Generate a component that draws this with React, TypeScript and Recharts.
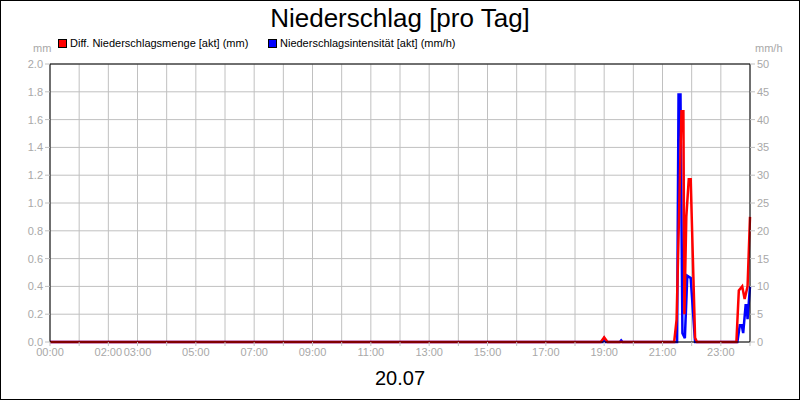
import React from "react";
import {
  LineChart,
  Line,
  XAxis,
  YAxis,
  CartesianGrid,
  ReferenceLine,
} from "recharts";

const RED = "#ff0000";
const BLUE = "#0000ff";
const GRID = "#c0c0c0";
const LABEL = "#a8a8a8";
const FONT = '"Liberation Sans", Arial, sans-serif';

// minutes since 00:00 and mm per step
const mengeTimes = [0, 1133, 1140, 1147, 1284, 1289, 1299, 1303, 1305, 1309, 1314, 1318, 1327, 1331, 1412, 1417, 1424, 1429, 1435, 1440];
const mengeValues = [0, 0, 0.034, 0, 0, 0.16, 1.66, 1.66, 0.2, 0.9, 1.17, 1.17, 0.03, 0, 0, 0.37, 0.4, 0.31, 0.4, 0.9];

// minutes since 00:00 and mm/h
const intensTimes = [0, 1137, 1140, 1143, 1172, 1175, 1178, 1290, 1293, 1297, 1301, 1306, 1311, 1318, 1327, 1414, 1419, 1423, 1426, 1431, 1433, 1435, 1440];
const intensValues = [0, 0, 0.6, 0, 0, 0.3, 0, 0, 44.5, 44.5, 1.6, 0.7, 11.9, 11.5, 0, 0, 3, 3, 1.6, 6.6, 6.6, 4.1, 10];

const hourTicks = Array.from({ length: 25 }, (_, i) => i * 60);
const labeledHours = [0, 2, 3, 5, 7, 9, 11, 13, 15, 17, 19, 21, 23];
const mmTicks = [0, 0.2, 0.4, 0.6, 0.8, 1.0, 1.2, 1.4, 1.6, 1.8, 2.0];
const mmhTicks = [0, 5, 10, 15, 20, 25, 30, 35, 40, 45, 50];

const mengeData = mengeTimes.map((t, i) => ({ t, v: mengeValues[i] }));
const intensData = intensTimes.map((t, i) => ({ t, v: intensValues[i] }));

function formatHour(min: number): string {
  const h = min / 60;
  if (!labeledHours.includes(h)) return "";
  return `${String(h).padStart(2, "0")}:00`;
}

const tickStyle = { fill: LABEL, fontSize: 11, fontFamily: FONT };

export default function App() {
  return (
    <div
      style={{
        position: "absolute",
        left: 0,
        top: 0,
        width: 800,
        height: 400,
        background: "#fff",
        fontFamily: FONT,
      }}
    >
      <LineChart
        width={800}
        height={400}
        margin={{ top: 64, right: 0, bottom: 0, left: 0 }}
      >
        <CartesianGrid stroke={GRID} yAxisId="left" />
        <XAxis
          type="number"
          dataKey="t"
          domain={[0, 1440]}
          ticks={hourTicks}
          tickFormatter={formatHour}
          interval={0}
          height={58}
          tick={tickStyle}
          tickSize={4}
          tickLine={{ stroke: GRID }}
          axisLine={{ stroke: "#000" }}
          allowDuplicatedCategory={false}
        />
        <YAxis
          yAxisId="left"
          domain={[0, 2]}
          ticks={mmTicks}
          tickFormatter={(v) => Number(v).toFixed(1)}
          width={50}
          tick={tickStyle}
          tickSize={5}
          tickLine={{ stroke: GRID }}
          axisLine={{ stroke: "#000" }}
        />
        <YAxis
          yAxisId="right"
          orientation="right"
          domain={[0, 50]}
          ticks={mmhTicks}
          width={50}
          tick={tickStyle}
          tickSize={5}
          tickLine={{ stroke: GRID }}
          axisLine={{ stroke: "#000" }}
        />
        <ReferenceLine yAxisId="left" y={2} stroke="#000" />
        <Line
          yAxisId="right"
          data={intensData}
          dataKey="v"
          type="linear"
          stroke={BLUE}
          strokeWidth={2.5}
          dot={false}
          isAnimationActive={false}
        />
        <Line
          yAxisId="left"
          data={mengeData}
          dataKey="v"
          type="linear"
          stroke={RED}
          strokeWidth={2.5}
          dot={false}
          isAnimationActive={false}
        />
      </LineChart>

      <div
        style={{
          position: "absolute",
          left: 0,
          top: 3,
          width: 800,
          textAlign: "center",
          fontSize: 26,
          lineHeight: "30px",
          color: "#000",
        }}
      >
        Niederschlag [pro Tag]
      </div>

      <div style={{ position: "absolute", left: 58, top: 37, fontSize: 11, lineHeight: "13px", display: "flex", alignItems: "center" }}>
        <span style={{ display: "inline-block", width: 7, height: 7, background: RED, border: "1px solid #000", marginRight: 3 }} />
        Diff. Niederschlagsmenge [akt] (mm)
      </div>
      <div style={{ position: "absolute", left: 268, top: 37, fontSize: 11, lineHeight: "13px", display: "flex", alignItems: "center" }}>
        <span style={{ display: "inline-block", width: 7, height: 7, background: BLUE, border: "1px solid #000", marginRight: 3 }} />
        Niederschlagsintensität [akt] (mm/h)
      </div>

      <div style={{ position: "absolute", left: 33, top: 42, fontSize: 11, lineHeight: "13px", color: LABEL }}>mm</div>
      <div style={{ position: "absolute", left: 755, top: 42, fontSize: 11, lineHeight: "13px", color: LABEL }}>mm/h</div>

      <div
        style={{
          position: "absolute",
          left: 0,
          top: 366,
          width: 800,
          textAlign: "center",
          fontSize: 20,
          lineHeight: "24px",
          color: "#000",
        }}
      >
        20.07
      </div>

      <div
        style={{
          position: "absolute",
          left: 0,
          top: 0,
          width: 800,
          height: 400,
          boxSizing: "border-box",
          border: "1px solid #000",
          pointerEvents: "none",
        }}
      />
    </div>
  );
}
